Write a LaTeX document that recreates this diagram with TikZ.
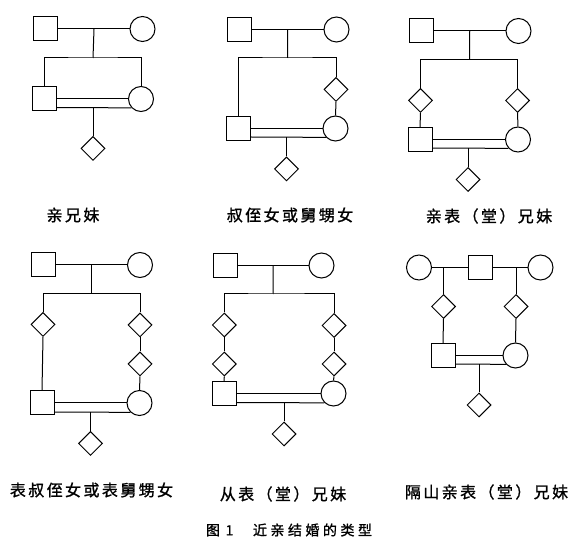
\documentclass[tikz,border=0pt]{standalone}
\usepackage{fontspec}
\newfontfamily\cjk[LetterSpace=15,FakeBold=1.2]{Noto Sans CJK SC}
\newfontfamily\capcjk[LetterSpace=25,FakeBold=1.2]{Noto Sans CJK SC}
\usetikzlibrary{shapes.geometric,calc}

\begin{document}
\begin{tikzpicture}[x=1pt,y=-1pt,line width=1pt,
    male/.style={draw,rectangle,minimum size=24pt,inner sep=0pt},
    female/.style={draw,circle,minimum size=25pt,inner sep=0pt},
    kid/.style={draw,diamond,minimum size=24pt,inner sep=0pt},
    tag/.style={font=\cjk\fontsize{16}{16}\selectfont}]
    \useasboundingbox (0,0) rectangle (582,548);

    % siblings
    \node[male] (f1) at (45.5,29) {};
    \node[female] (m1) at (142.5,29) {};
    \node[male] (s1) at (44,99) {};
    \node[female] (d1) at (141,99) {};
    \node[kid] (k1) at (93,148.5) {};
    \coordinate (t1) at ($(f1)!0.5!(m1)$);
    \coordinate (b1) at (93,58);
    \draw (f1) -- (m1);
    \draw (t1) -- (b1);
    \draw (s1.north) |- (b1) -| (d1.north);
    \draw (s1.east) -- (d1.west);
    \draw ($(s1.east)+(0,8.5)$) coordinate (c1) -- (d1.223);
    \draw (k1.north) -- (k1.north |- c1);
    \node[tag] (n1) at (73,215) {亲兄妹};

    % uncle and niece
    \node[male] (f2) at (239,29.5) {};
    \node[female] (m2) at (336.5,29.5) {};
    \node[male] (s2) at (238.5,128.5) {};
    \node[kid] (g2) at (336,89.5) {};
    \node[female] (d2) at (335.5,128.5) {};
    \node[kid] (k2) at (286.5,169) {};
    \coordinate (t2) at ($(f2)!0.5!(m2)$);
    \coordinate (b2) at (287.5,58);
    \draw (f2) -- (m2);
    \draw (t2) -- (b2);
    \draw (s2.north) |- (b2) -| (g2.north);
    \draw (g2.south) -- (d2.north);
    \draw (s2.east) -- (d2.west);
    \draw ($(s2.east)+(0,8.5)$) coordinate (c2) -- (d2.223);
    \draw (k2.north) -- (k2.north |- c2);
    \node[tag] (n2) at (290,215) {叔侄女或舅甥女};

    % first cousins
    \node[male] (f3) at (421,31) {};
    \node[female] (m3) at (518.5,31) {};
    \node[kid] (g3) at (420.5,100.5) {};
    \node[kid] (h3) at (517.5,100.5) {};
    \node[male] (s3) at (420,139.5) {};
    \node[female] (d3) at (518,139.5) {};
    \node[kid] (k3) at (468,179.5) {};
    \coordinate (t3) at ($(f3)!0.5!(m3)$);
    \coordinate (b3) at (469.5,59.5);
    \draw (f3) -- (m3);
    \draw (t3) -- (b3);
    \draw (g3.north) |- (b3) -| (h3.north);
    \draw (g3.south) -- (s3.north);
    \draw (h3.south) -- (d3.north);
    \draw (s3.east) -- (d3.west);
    \draw ($(s3.east)+(0,8.5)$) coordinate (c3) -- (d3.223);
    \draw (k3.north) -- (k3.north |- c3);
    \node[tag] (n3) at (489,216) {亲表（堂）兄妹};

    % first cousin once removed
    \node[male] (f4) at (43,265) {};
    \node[female] (m4) at (140,265) {};
    \node[kid] (g4) at (43,324.5) {};
    \node[kid] (h4) at (140,325) {};
    \node[kid] (j4) at (140,364) {};
    \node[male] (s4) at (42,403) {};
    \node[female] (d4) at (139.5,403) {};
    \node[kid] (k4) at (90.5,443.5) {};
    \coordinate (t4) at ($(f4)!0.5!(m4)$);
    \coordinate (b4) at (91.5,293.5);
    \draw (f4) -- (m4);
    \draw (t4) -- (b4);
    \draw (g4.north) |- (b4) -| (h4.north);
    \draw (g4.south) -- (s4.north);
    \draw (h4.south) -- (j4.north);
    \draw (j4.south) -- (d4.north);
    \draw (s4.east) -- (d4.west);
    \draw ($(s4.east)+(0,9)$) coordinate (c4) -- (d4.226);
    \draw (k4.north) -- (k4.north |- c4);
    \node[tag] (n4) at (91.5,490) {表叔侄女或表舅甥女};

    % second cousins
    \node[male] (f5) at (225,265.5) {};
    \node[female] (m5) at (321.5,265.5) {};
    \node[kid] (g5) at (224.3,325) {};
    \node[kid] (gg5) at (224.3,364) {};
    \node[kid] (h5) at (334,325.5) {};
    \node[kid] (hh5) at (334,364) {};
    \node[male] (s5) at (224,393.5) {};
    \node[female] (d5) at (333.5,393.5) {};
    \node[kid] (k5) at (284,434) {};
    \coordinate (t5) at ($(f5)!0.5!(m5)$);
    \coordinate (b5) at (273,294);
    \draw (f5) -- (m5);
    \draw (t5) -- (b5);
    \draw (g5.north) |- (b5) -| (h5.north);
    \draw (g5.south) -- (gg5.north);
    \draw (gg5.south) -- (s5.north);
    \draw (h5.south) -- (hh5.north);
    \draw (hh5.south) -- (d5.north);
    \draw (s5.east) -- (d5.west);
    \draw ($(s5.east)+(0,9)$) coordinate (c5) -- (d5.226);
    \draw (k5.north) -- (k5.north |- c5);
    \node[tag] (n5) at (283,494) {从表（堂）兄妹};

    % half cousins
    \node[female] (l6) at (419,267.5) {};
    \node[male] (f6) at (480,267.5) {};
    \node[female] (r6) at (540.5,267.5) {};
    \node[kid] (g6) at (443.5,306.5) {};
    \node[kid] (h6) at (516,306.5) {};
    \node[male] (s6) at (443,355.5) {};
    \node[female] (d6) at (515.5,355.5) {};
    \node[kid] (k6) at (479,405) {};
    \draw (l6) -- (f6) -- (r6);
    \draw (g6.north) -- (g6.north |- l6);
    \draw (h6.north) -- (h6.north |- r6);
    \draw (g6.south) -- (s6.north);
    \draw (h6.south) -- (d6.north);
    \draw (s6.east) -- (d6.west);
    \draw ($(s6.east)+(0,8.5)$) coordinate (c6) -- (d6.223);
    \draw (k6.north) -- (k6.north |- c6);
    \node[tag] (n6) at (486.5,492) {隔山亲表（堂）兄妹};

    \node[font=\capcjk\fontsize{14}{14}\selectfont] (cap) at (289,530)
        {图\hspace{0.4em}1\hspace{1.4em}近亲结婚的类型};
\end{tikzpicture}
\end{document}
